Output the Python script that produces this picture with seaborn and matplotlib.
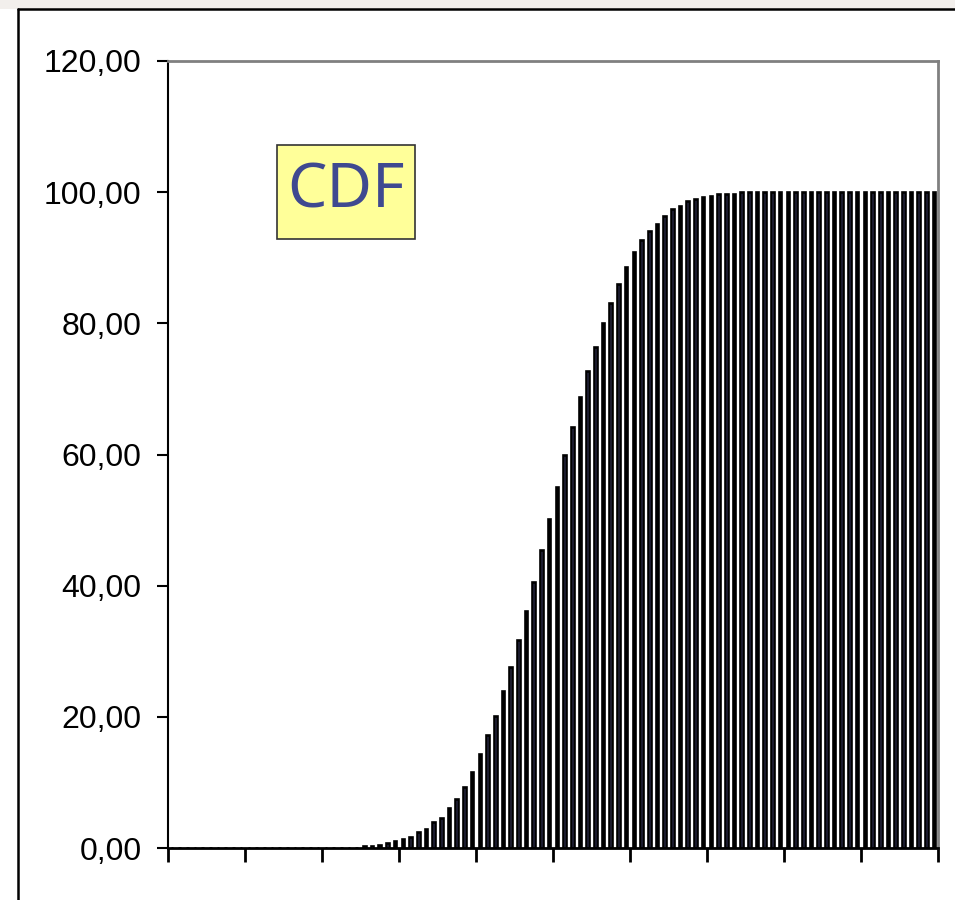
import numpy as np
import pandas as pd
import matplotlib
matplotlib.use("Agg")
import matplotlib.pyplot as plt
from matplotlib.patches import Rectangle
import seaborn as sns

# cumulative percentages, one bar per class (100 classes)
zeros = [0.0] * 25
rise = [0.3, 0.35, 0.4, 0.8, 1.0, 1.3, 1.7, 2.5, 2.9, 3.9,
        4.6, 6.1, 7.5, 9.3, 11.6, 14.3, 17.2, 20.2, 23.9, 27.6,
        31.7, 36.1, 40.5, 45.4, 50.2, 55.0, 59.9, 64.2, 68.7, 72.8,
        76.4, 80.1, 83.1, 86.0, 88.6, 90.9, 92.7, 94.1, 95.2, 96.4,
        97.5, 97.9, 98.6, 98.9, 99.3, 99.4, 99.7, 99.7, 99.7]
plateau = [100.0] * 26
cdf_values = zeros + rise + plateau
classes = list(range(len(cdf_values)))

ytick_values = [0, 20, 40, 60, 80, 100, 120]
ytick_labels = ["0,00", "20,00", "40,00", "60,00", "80,00", "100,00", "120,00"]

df = pd.DataFrame({"cls": classes, "cdf": cdf_values})

sns.set_style("white")
plt.rcParams["font.family"] = ["Liberation Sans", "DejaVu Sans"]

fig = plt.figure(figsize=(9.55, 9.0), dpi=100)
fig.patch.set_facecolor("white")

# slide background strip and the outer frame of the chart object
fig.patches.append(Rectangle((0, 891 / 900), 1, 9 / 900, transform=fig.transFigure,
                             facecolor="#f2efec", edgecolor="none", zorder=0))
fig.add_artist(plt.Line2D([18 / 955, 18 / 955], [0, 891 / 900], color="black", lw=1.8))
fig.add_artist(plt.Line2D([18 / 955, 1], [891 / 900, 891 / 900], color="black", lw=1.8))

ax = fig.add_axes([168 / 955, 52 / 900, 770 / 955, 787 / 900])
sns.barplot(data=df, x="cls", y="cdf", color="#9999ff", saturation=1,
            width=0.34, edgecolor="black", linewidth=1.9, ax=ax)

ax.set_xlim(-0.5, len(cdf_values) - 0.5)
ax.set_ylim(0, 120)
ax.set_xticks(np.arange(-0.5, len(cdf_values), 10))
ax.set_xticklabels([])
ax.set_yticks(ytick_values)
ax.set_yticklabels(ytick_labels, fontsize=23, color="black")
ax.set_xlabel("")
ax.set_ylabel("")

ax.tick_params(axis="y", direction="out", length=8, width=1.5, color="black",
               pad=11, left=True)
ax.tick_params(axis="x", direction="out", length=10, width=2, color="black",
               bottom=True)

for side in ["top", "right"]:
    ax.spines[side].set_color("#808080")
    ax.spines[side].set_linewidth(2)
ax.spines["left"].set_color("black")
ax.spines["left"].set_linewidth(1.5)
ax.spines["bottom"].set_color("black")
ax.spines["bottom"].set_linewidth(2)

# the "CDF" label box
ax.add_patch(Rectangle((0.1416, 0.7738), 0.1792, 0.1194, transform=ax.transAxes,
                       facecolor="#ffff99", edgecolor="#333333", linewidth=1.2, zorder=5))
ax.text(0.2312, 0.8336, "CDF", transform=ax.transAxes, ha="center", va="center",
        fontsize=45, color="#3f4990", family=["Noto Sans", "DejaVu Sans"], zorder=6)

fig.savefig("out.png", dpi=100)
